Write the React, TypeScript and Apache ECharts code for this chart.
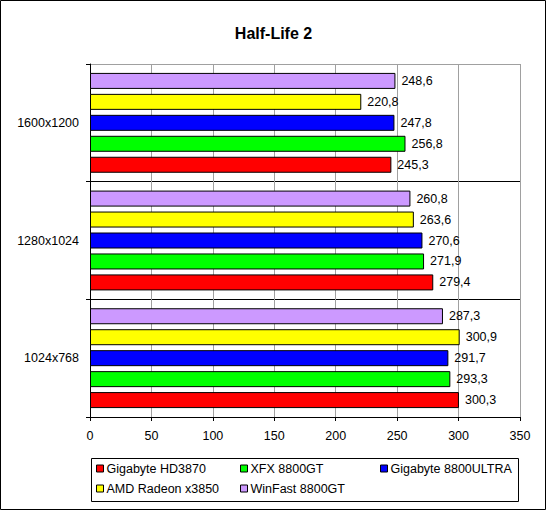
import React, { useEffect, useRef } from "react";
import * as echarts from "echarts";

const categories = ["1024x768", "1280x1024", "1600x1200"];
const seriesNames = [
  "Gigabyte HD3870",
  "XFX 8800GT",
  "Gigabyte 8800ULTRA",
  "AMD Radeon x3850",
  "WinFast 8800GT",
];
const seriesColors = ["#ff0000", "#00ff00", "#0000ff", "#ffff00", "#cc99ff"];
const hd3870 = [300.3, 279.4, 245.3];
const xfx8800gt = [293.3, 271.9, 256.8];
const ultra8800 = [291.7, 270.6, 247.8];
const amdX3850 = [300.9, 263.6, 220.8];
const winfast8800gt = [287.3, 260.8, 248.6];
const seriesValues = [hd3870, xfx8800gt, ultra8800, amdX3850, winfast8800gt];
const xTicks = [0, 50, 100, 150, 200, 250, 300, 350];

const FONT = "'Liberation Sans', Arial, sans-serif";

export default function App() {
  const ref = useRef<HTMLDivElement>(null);
  useEffect(() => {
    document.body.style.margin = "0";
    const chart = echarts.init(ref.current!, null, { renderer: "svg" });
    const legendCol = (names: string[], left: number) => ({
      data: names,
      orient: "vertical" as const,
      left,
      top: 462,
      itemWidth: 7,
      itemHeight: 7,
      itemGap: 7,
      padding: 0,
      icon: "rect",
      textStyle: { fontFamily: FONT, fontSize: 12.5, color: "#000", padding: [0, 0, 0, -2] },
      itemStyle: { borderColor: "#000", borderWidth: 1 },
      selectedMode: false,
    });
    // ECharts stacks horizontal bars top-down in series order; the reference
    // shows the first legend entry at the bottom, so series are added in reverse.
    const order = seriesNames.map((_, i) => i).reverse();
    chart.setOption({
      animation: false,
      backgroundColor: "#fff",
      title: {
        text: "Half-Life 2",
        left: "center",
        top: 20,
        textStyle: { fontFamily: FONT, fontSize: 16, fontWeight: "bold", color: "#000" },
      },
      grid: { left: 90, right: 27, top: 64, bottom: 94, containLabel: false },
      xAxis: {
        type: "value",
        min: 0,
        max: 350,
        interval: 50,
        axisLine: { show: true, lineStyle: { color: "#000", width: 1 } },
        axisTick: { show: true, length: 4, lineStyle: { color: "#000" } },
        axisLabel: {
          margin: 12,
          fontFamily: FONT,
          fontSize: 12.5,
          color: "#000",
          formatter: (v: number) => (xTicks.includes(v) ? String(v) : ""),
        },
        splitLine: { show: true, lineStyle: { color: "#a0a0a0", width: 1 } },
      },
      yAxis: {
        type: "category",
        data: categories,
        axisLine: { show: true, lineStyle: { color: "#000", width: 1 } },
        axisTick: { show: true, length: 4, lineStyle: { color: "#000" } },
        axisLabel: { margin: 11, fontFamily: FONT, fontSize: 12.5, color: "#000" },
        splitLine: {
          show: true,
          lineStyle: { color: ["#000", "#000", "#000", "#a0a0a0"], width: 1 },
        },
      },
      legend: [
        legendCol([seriesNames[0], seriesNames[3]], 96),
        legendCol([seriesNames[1], seriesNames[4]], 240),
        legendCol([seriesNames[2]], 380),
      ],
      graphic: [
        {
          type: "rect",
          shape: { x: 0.5, y: 0.5, width: 545, height: 509 },
          style: { fill: "none", stroke: "#000", lineWidth: 1 },
          silent: true,
        },
        {
          type: "rect",
          shape: { x: 91.5, y: 458.5, width: 427, height: 43 },
          style: { fill: "none", stroke: "#000", lineWidth: 1 },
          silent: true,
        },
      ],
      series: order.map((i) => ({
        name: seriesNames[i],
        type: "bar",
        data: seriesValues[i],
        barWidth: 16,
        barGap: "31%",
        itemStyle: { color: seriesColors[i], borderColor: "#000", borderWidth: 1 },
        label: {
          show: true,
          position: "right",
          distance: 6,
          fontFamily: FONT,
          fontSize: 12.5,
          color: "#000",
          formatter: (p: any) => String(p.value).replace(".", ","),
        },
      })),
    });
    return () => chart.dispose();
  }, []);
  return <div ref={ref} style={{ width: 547, height: 511 }} />;
}
